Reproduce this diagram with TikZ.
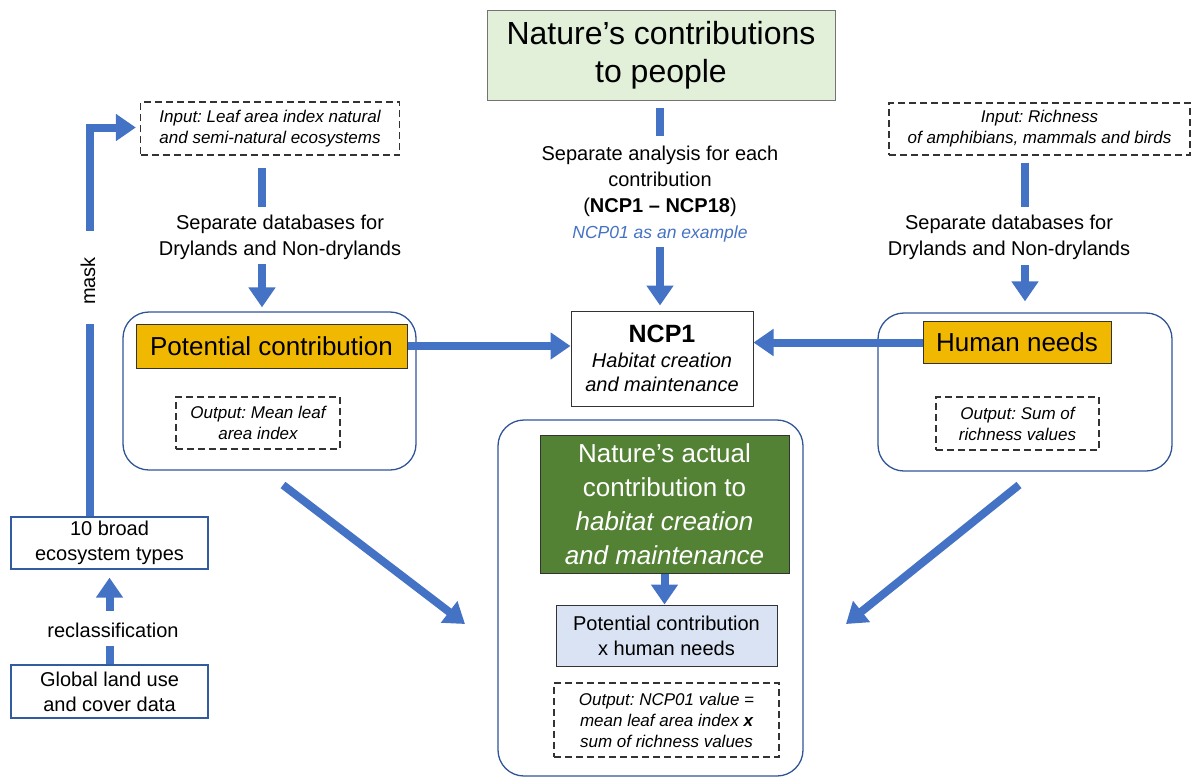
\documentclass[tikz,border=0pt]{standalone}
\usepackage{fontspec}
\setmainfont{Liberation Sans}
\frenchspacing
\usetikzlibrary{arrows.meta,calc}
\definecolor{ncpblue}{HTML}{4472C4}
\definecolor{contblue}{HTML}{2F5597}
\definecolor{lightgreen}{HTML}{E2F0D9}
\definecolor{gold}{HTML}{F0B800}
\definecolor{darkgreen}{HTML}{548235}
\definecolor{paleblue}{HTML}{DAE3F3}
\definecolor{dashgray}{HTML}{333333}
\tikzset{
  arr/.style={draw=ncpblue, line width=8pt, -{Triangle[length=20pt,width=26pt]}},
  stub/.style={draw=ncpblue, line width=8pt},
  plainbox/.style={draw=black!80, line width=1pt, inner sep=0pt, align=center},
  dashbox/.style={draw=dashgray, line width=1.3pt, dash pattern=on 7pt off 4pt, inner sep=0pt, align=center, font=\fontsize{17}{21}\selectfont\itshape},
  container/.style={draw=contblue, line width=1.3pt, rounded corners=26pt, inner sep=0pt},
  leftbox/.style={draw=contblue!80!ncpblue, line width=1.3pt, inner sep=0pt, align=center, font=\fontsize{20}{25}\selectfont},
  plaintext/.style={align=center, inner sep=0pt, font=\fontsize{20}{26}\selectfont},
}
\begin{document}
\begin{tikzpicture}[x=1pt,y=-1pt]
\useasboundingbox (0,0) rectangle (1192,780);
% containers
\node[container, minimum width=293pt, minimum height=158pt] (contL) at (269.5,391) {};
\node[container, minimum width=294pt, minimum height=158pt] (contR) at (1025,392) {};
\node[container, minimum width=305pt, minimum height=356pt] (contB) at (650.5,598) {};
% title
\node[plainbox, draw=black!55, fill=lightgreen, minimum width=348pt, minimum height=90pt,
      font=\fontsize{32}{38}\selectfont] (title) at (661,55) {Nature’s contributions\\to people};
\node[plaintext] (sepA) at (660,194) {Separate analysis for each\\contribution\\(\textbf{NCP1 – NCP18})\\
  {\color{ncpblue}\fontsize{17.5}{22}\selectfont\itshape NCP01 as an example}};
\node[plainbox, fill=white, minimum width=182pt, minimum height=95pt, font=\fontsize{20}{24}\selectfont] (ncp1) at (662,358.5)
  {{\fontsize{25}{28}\selectfont\bfseries NCP1}\\[1pt]\itshape Habitat creation\\\itshape and maintenance};
% left branch
\node[dashbox, minimum width=259pt, minimum height=53pt] (inL) at (270,128.5) {Input: Leaf area index natural\\and semi-natural ecosystems};
\node[plaintext] (sepL) at (280,237) {Separate databases for\\Drylands and Non-drylands};
\node[plainbox, fill=gold, minimum width=271pt, minimum height=44pt, font=\fontsize{26}{30}\selectfont] (pot) at (271.5,346) {Potential contribution};
\node[dashbox, minimum width=164pt, minimum height=52pt] (outL) at (258,423) {Output: Mean leaf\\area index};
% right branch
\node[dashbox, minimum width=301pt, minimum height=52pt] (inR) at (1039.5,129) {Input: Richness\\of amphibians, mammals and birds};
\node[plaintext] (sepR) at (1009,237) {Separate databases for\\Drylands and Non-drylands};
\node[plainbox, fill=gold, minimum width=188pt, minimum height=42pt, font=\fontsize{26}{30}\selectfont] (hum) at (1017,342.5) {Human needs};
\node[dashbox, minimum width=163pt, minimum height=53pt] (outR) at (1017.5,423.5) {Output: Sum of\\richness values};
% bottom
\node[plainbox, fill=darkgreen, text=white, minimum width=249pt, minimum height=138pt, font=\fontsize{26}{34}\selectfont] (green) at (664.5,504)
  {Nature’s actual\\contribution to\\\itshape habitat creation\\\itshape and maintenance};
\node[plainbox, fill=paleblue, minimum width=221pt, minimum height=61pt, font=\fontsize{20}{25}\selectfont] (lb) at (666.5,635.5) {Potential contribution\\x human needs};
\node[dashbox, minimum width=225pt, minimum height=74pt] (outB) at (666.5,720) {Output: NCP01 value =\\mean leaf area index \textbf{x}\\sum of richness values};
% far left
\node[leftbox, minimum width=197pt, minimum height=52pt] (broad) at (109.5,543) {10 broad\\ecosystem types};
\node[leftbox, minimum width=197pt, minimum height=53pt] (glob) at (109.5,691.5) {Global land use\\and cover data};
\node[plaintext] (recl) at (113,630) {reclassification};
\node[plaintext, rotate=90] (mask) at (88,281) {mask};
% connectors
\draw[stub] ($(title.south)+(-1,7)$) -- ($(title.south)+(-1,35)$);
\draw[arr] ($(ncp1.north)+(-2,-64)$) -- ($(ncp1.north)+(-2,-5)$);
\draw[stub] ($(inL.south)+(-8,12)$) -- ($(inL.south)+(-8,51)$);
\draw[arr] ($(contL.north)+(-7.5,-47)$) -- ($(contL.north)+(-7.5,-4)$);
\draw[stub] ($(inR.south)+(-14.5,7)$) -- ($(inR.south)+(-14.5,51)$);
\draw[arr] ($(contR.north)+(0,-47)$) -- ($(contR.north)+(0,-11)$);
\draw[arr] (pot.east) -- (pot.east -| ncp1.west);
\draw[arr] (hum.west) -- (hum.west -| ncp1.east);
\draw[arr] (green.south) -- (green.south |- lb.north);
\draw[stub] (glob.north) -- ($(glob.north)+(0,-18)$);
\draw[arr] ($(broad.south)+(0,41)$) -- ($(broad.south)+(0,8)$);
\draw[stub] ($(broad.north)+(-19.5,0)$) -- ($(broad.north)+(-19.5,-192)$);
\draw[arr] ($(inL.west)+(-50,102)$) |- ($(inL.west)+(-4,-1)$);
\coordinate (dl1) at (283,485);
\coordinate (dl2) at (465,624);
\coordinate (dr1) at (1019,485);
\coordinate (dr2) at (846,624);
\draw[arr] (dl1) -- (dl2);
\draw[arr] (dr1) -- (dr2);
\end{tikzpicture}
\end{document}
